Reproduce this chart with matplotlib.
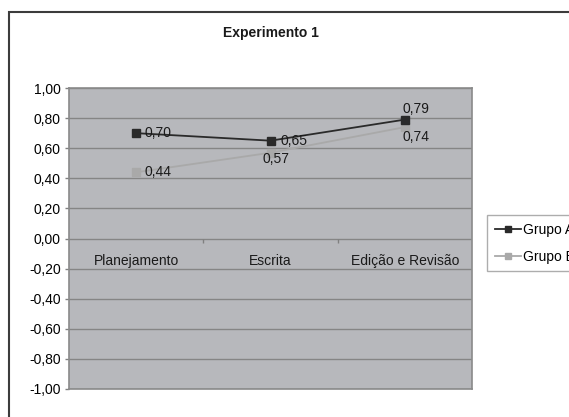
import matplotlib.pyplot as plt
from matplotlib.patches import Rectangle

plt.rcParams['font.family'] = ['Liberation Sans', 'DejaVu Sans']

# dados do grafico
etapas = ['Planejamento', 'Escrita', 'Edição e Revisão']
grupo_a = [0.70, 0.65, 0.79]
grupo_b = [0.44, 0.57, 0.74]
rot_a = ['0,70', '0,65', '0,79']
rot_b = ['0,44', '0,57', '0,74']
y_ticks = [-1.0, -0.8, -0.6, -0.4, -0.2, 0.0, 0.2, 0.4, 0.6, 0.8, 1.0]
y_labels = ['-1,00', '-0,80', '-0,60', '-0,40', '-0,20', '0,00',
            '0,20', '0,40', '0,60', '0,80', '1,00']

W, H = 569, 417
fig = plt.figure(figsize=(W / 100.0, H / 100.0), dpi=100)
fig.patch.set_facecolor('white')

# moldura externa do grafico (cortada a direita e embaixo)
fig.add_artist(Rectangle((9.0 / W, -0.1), 1.0, 1 - 12.0 / H + 0.1,
                         transform=fig.transFigure, fill=False,
                         edgecolor='#3c3c3c', linewidth=1.5))

ax = fig.add_axes([69.0 / W, 1 - 389.0 / H, 403.0 / W, 301.0 / H])
ax.set_facecolor('#b7b8bc')
x = list(range(len(etapas)))

ax.set_xlim(-0.5, len(etapas) - 0.5)
ax.set_ylim(-1.0, 1.0)
ax.set_yticks(y_ticks)
ax.set_yticklabels(y_labels, fontsize=10)
ax.tick_params(axis='y', direction='out', length=3, width=1, color='#808080', pad=3)
ax.set_xticks([])
ax.grid(axis='y', color='#858585', linewidth=1)
ax.set_axisbelow(True)
for s in ax.spines.values():
    s.set_color('#8a8a8a')
    s.set_linewidth(1.2)

# eixo das categorias em y = 0: tracos entre categorias e rotulos
ax.vlines([i + 0.5 for i in x[:-1]], -0.028, 0, color='#808080', linewidth=1)
for i in x:
    ax.text(x[i], -0.10, etapas[i], ha='center', va='top', fontsize=10, color='#1a1a1a')

ax.plot(x, grupo_b, color='#a9a9a9', marker='s', markersize=6,
        markeredgecolor='#a9a9a9', linewidth=1.3, label='Grupo B', zorder=3)
ax.plot(x, grupo_a, color='#2a2a2a', marker='s', markersize=6,
        markeredgecolor='#2a2a2a', linewidth=1.3, label='Grupo A', zorder=4)

off_a = [(8, 0), (10, 0), (-2, 11)]
off_b = [(8, 0), (-8, -6), (-2, -10)]
for i in x:
    ax.annotate(rot_a[i], (x[i], grupo_a[i]), xytext=off_a[i], textcoords='offset pixels',
                ha='left', va='center', fontsize=10, color='#1a1a1a', zorder=5)
    ax.annotate(rot_b[i], (x[i], grupo_b[i]), xytext=off_b[i], textcoords='offset pixels',
                ha='left', va='center', fontsize=10, color='#1a1a1a', zorder=5)

fig.text(270.5 / W, 1 - 33.0 / H, 'Experimento 1', ha='center', va='center',
         fontsize=10, fontweight='bold', color='#1a1a1a')

# legenda (cortada na borda direita, como no original)
h, l = ax.get_legend_handles_labels()
leg = fig.legend(h[::-1], l[::-1], loc='upper left',
                 bbox_to_anchor=(487.0 / W, 1 - 215.0 / H), borderaxespad=0,
                 fontsize=10, frameon=True, fancybox=False, edgecolor='#999999',
                 handlelength=1.9, handletextpad=0.15, borderpad=0.55,
                 labelspacing=0.95, markerscale=0.8)
leg.get_frame().set_linewidth(1)

plt.savefig('out.png', dpi=100)
